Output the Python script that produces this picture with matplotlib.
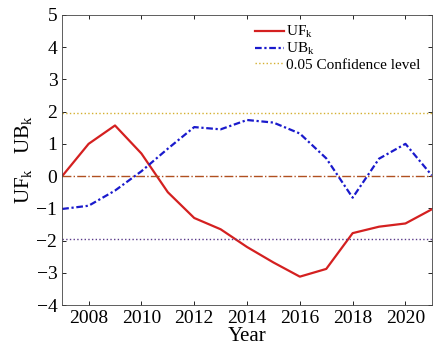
import numpy as np
import matplotlib
matplotlib.use("Agg")
import matplotlib.pyplot as plt

plt.rcParams['font.family'] = ['Liberation Serif', 'DejaVu Serif']
plt.rcParams['mathtext.fontset'] = 'custom'
plt.rcParams['mathtext.rm'] = 'Liberation Serif'
plt.rcParams['mathtext.it'] = 'Liberation Serif'

# data
years = [2007, 2008, 2009, 2010, 2011, 2012, 2013, 2014, 2015, 2016, 2017, 2018, 2019, 2020, 2021]
uf = [0.0, 1.0, 1.57, 0.7, -0.5, -1.3, -1.65, -2.2, -2.68, -3.12, -2.88, -1.77, -1.57, -1.47, -1.03]
ub = [-1.02, -0.92, -0.45, 0.15, 0.85, 1.52, 1.45, 1.74, 1.66, 1.32, 0.55, -0.67, 0.54, 1.0, 0.02]
conf = 1.96

fig = plt.figure(figsize=(4.38, 3.47), dpi=100)
ax = fig.add_axes([0.142, 0.121, 0.844, 0.836])

ax.plot(years, uf, color='#d42020', lw=1.6, label='UF$_\\mathrm{k}$')
ax.plot(years, ub, color='#1a1acc', lw=1.6, ls=(0, (3, 1.2, 1, 1.2)), label='UB$_\\mathrm{k}$')
ax.axhline(conf, color='#d4b030', lw=1.0, ls=':', label='0.05 Confidence level')
ax.axhline(0, color='#b05020', lw=1.0, ls='-.')
ax.axhline(-conf, color='#5a3a8a', lw=1.0, ls=':')

ax.set_xlim(2007, 2021)
ax.set_ylim(-4, 5)
ax.set_xticks([2008, 2010, 2012, 2014, 2016, 2018, 2020])
ax.set_yticks(range(-4, 6))
ax.tick_params(direction='in', top=True, right=True, labelsize=14, length=3, width=0.6)
for s in ax.spines.values():
    s.set_linewidth(0.6)
    s.set_color('#444444')

ax.set_xlabel('Year', fontsize=15, labelpad=0)
ax.set_ylabel('UF$_\\mathrm{k}$   UB$_\\mathrm{k}$', fontsize=15, labelpad=2)

ax.legend(loc='upper right', frameon=False, fontsize=11, handlelength=1.9,
          handletextpad=0.15, labelspacing=0.05, borderaxespad=0.2,
          bbox_to_anchor=(0.995, 1.0))

fig.savefig('out.png', dpi=100)
